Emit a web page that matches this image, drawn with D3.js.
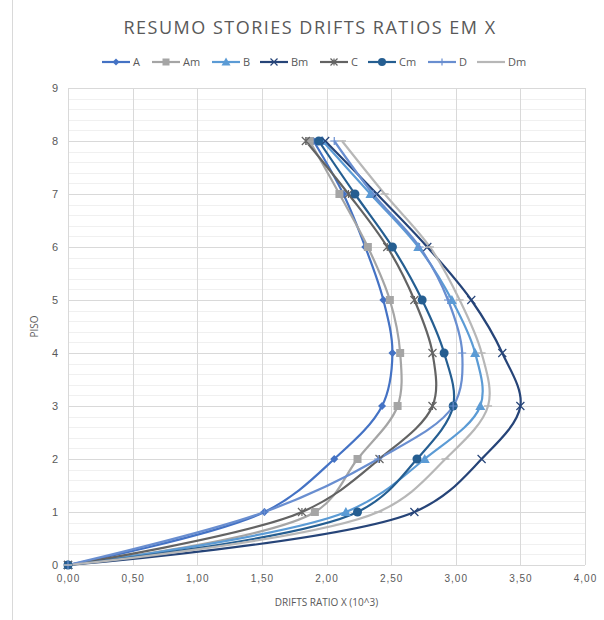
<!DOCTYPE html>
<html><head><meta charset="utf-8">
<script src="https://cdn.jsdelivr.net/npm/d3@7"></script>
<style>body{margin:0;background:#fff;}svg{display:block;font-family:"Open Sans","Noto Sans",sans-serif;}</style>
</head><body><svg id="c" width="604" height="620"></svg>
<script>
const floors = [0,1,2,3,4,5,6,7,8];
const seriesNames = ["A","Am","B","Bm","C","Cm","D","Dm"];
const A  = [0,1.52,2.06,2.43,2.51,2.44,2.30,2.13,1.90];
const Am = [0,1.91,2.24,2.55,2.57,2.49,2.32,2.10,1.87];
const B  = [0,2.15,2.76,3.19,3.15,2.97,2.71,2.34,1.97];
const Bm = [0,2.68,3.20,3.50,3.36,3.12,2.78,2.39,1.99];
const C  = [0,1.81,2.41,2.82,2.82,2.68,2.47,2.17,1.84];
const Cm = [0,2.24,2.70,2.98,2.91,2.74,2.51,2.22,1.94];
const D  = [0,1.52,2.40,2.98,3.05,2.94,2.72,2.36,2.06];
const Dm = [0,2.40,2.92,3.25,3.20,3.03,2.80,2.45,2.12];
const xTicks = [0,0.5,1,1.5,2,2.5,3,3.5,4];
const yTicks = [0,1,2,3,4,5,6,7,8,9];

const values = {A,Am,B,Bm,C,Cm,D,Dm};
const colors = {A:"#4472C4",Am:"#A5A5A5",B:"#5B9BD5",Bm:"#264478",C:"#636363",Cm:"#255E91",D:"#698ED0",Dm:"#B7B7B7"};
const markers = {A:"diamond",Am:"square",B:"triangle",Bm:"x",C:"star",Cm:"circle",D:"plus",Dm:"dash"};

const svg = d3.select("#c");
const L=68,R=585,T=88,Bt=565;
const x = d3.scaleLinear().domain([0,4]).range([L,R]);
const y = d3.scaleLinear().domain([0,9]).range([Bt,T]);
const txt = "#595959";

// chart border (left)
svg.append("line").attr("x1",12.5).attr("x2",12.5).attr("y1",0).attr("y2",620).attr("stroke","#D9D9D9");

// minor horizontal gridlines
const g = svg.append("g");
d3.range(0,9.001,0.2).forEach(v=>{
  if(Math.abs(v-Math.round(v))<1e-6) return;
  g.append("line").attr("x1",L).attr("x2",R).attr("y1",Math.round(y(v))+0.5).attr("y2",Math.round(y(v))+0.5).attr("stroke","#F0F0F0");
});
yTicks.forEach(v=>{
  g.append("line").attr("x1",L).attr("x2",R).attr("y1",Math.round(y(v))+0.5).attr("y2",Math.round(y(v))+0.5).attr("stroke","#D9D9D9");
});
xTicks.forEach(v=>{
  g.append("line").attr("x1",Math.round(x(v))+0.5).attr("x2",Math.round(x(v))+0.5).attr("y1",T).attr("y2",Bt).attr("stroke","#D9D9D9");
});

// axes labels
const fmt = d3.format(".2f");
const xa = svg.append("g").attr("transform",`translate(0,${Bt})`).call(d3.axisBottom(x).tickValues(xTicks).tickSize(0).tickPadding(10).tickFormat(d=>fmt(d).replace(".",",")));
xa.select(".domain").remove();
xa.selectAll("text").attr("fill",txt).style("font-size","10px").style("letter-spacing","1px");
const ya = svg.append("g").attr("transform",`translate(${L},0)`).call(d3.axisLeft(y).tickValues(yTicks).tickSize(0).tickPadding(10).tickFormat(d3.format("d")));
ya.select(".domain").remove();
ya.selectAll("text").attr("fill",txt).style("font-size","11px");

svg.append("text").attr("x",38).attr("y",(T+Bt)/2).attr("transform",`rotate(-90,38,${(T+Bt)/2})`).attr("text-anchor","middle").attr("fill",txt).style("font-size","10px").text("PISO");
svg.append("text").attr("x",(L+R)/2).attr("y",606).attr("text-anchor","middle").attr("fill",txt).style("font-size","10px").text("DRIFTS RATIO X (10^3)");
svg.append("text").attr("x",310).attr("y",34).attr("text-anchor","middle").attr("fill",txt).style("font-size","18px").style("letter-spacing","1.5px").text("RESUMO STORIES DRIFTS RATIOS EM X");

function drawMarker(sel, type, color, cx, cy, s){
  const gm = sel.append("g").attr("transform",`translate(${cx},${cy})`);
  if(type==="diamond") gm.append("path").attr("d",`M0,${-s}L${s},0L0,${s}L${-s},0Z`).attr("fill",color);
  else if(type==="square") gm.append("rect").attr("x",-s).attr("y",-s).attr("width",2*s).attr("height",2*s).attr("fill",color);
  else if(type==="triangle") gm.append("path").attr("d",`M0,${-s-1}L${s+1},${s}L${-s-1},${s}Z`).attr("fill",color);
  else if(type==="circle") gm.append("circle").attr("r",s+0.5).attr("fill",color);
  else if(type==="x") gm.append("path").attr("d",`M${-s},${-s}L${s},${s}M${-s},${s}L${s},${-s}`).attr("stroke",color).attr("stroke-width",1.2);
  else if(type==="star") gm.append("path").attr("d",`M${-s},${-s}L${s},${s}M${-s},${s}L${s},${-s}M0,${-s}L0,${s}`).attr("stroke",color).attr("stroke-width",1.2);
  else if(type==="plus") gm.append("path").attr("d",`M${-s},0L${s},0M0,${-s}L0,${s}`).attr("stroke",color).attr("stroke-width",1.2);
  else if(type==="dash") gm.append("path").attr("d",`M${-s},0L${s},0`).attr("stroke",color).attr("stroke-width",1.5);
}

const line = d3.line().x(d=>x(d[0])).y(d=>y(d[1])).curve(d3.curveCatmullRom.alpha(0.5));
const plot = svg.append("g");
seriesNames.forEach(n=>{
  const pts = values[n].map((v,i)=>[v,floors[i]]);
  plot.append("path").attr("d",line(pts)).attr("fill","none").attr("stroke",colors[n]).attr("stroke-width",2.2);
});
seriesNames.forEach(n=>{
  values[n].forEach((v,i)=>drawMarker(plot,markers[n],colors[n],x(v),y(floors[i]),4));
});

// legend
const legX = [102,152,212,260,320,368,428,477];
const leg = svg.append("g");
seriesNames.forEach((n,i)=>{
  const lx = legX[i], ly = 62;
  leg.append("line").attr("x1",lx).attr("x2",lx+28).attr("y1",ly).attr("y2",ly).attr("stroke",colors[n]).attr("stroke-width",2.2);
  drawMarker(leg,markers[n],colors[n],lx+14,ly,3.5);
  leg.append("text").attr("x",lx+31).attr("y",ly+4).attr("fill",txt).style("font-size","11px").text(n);
});
</script></body></html>
